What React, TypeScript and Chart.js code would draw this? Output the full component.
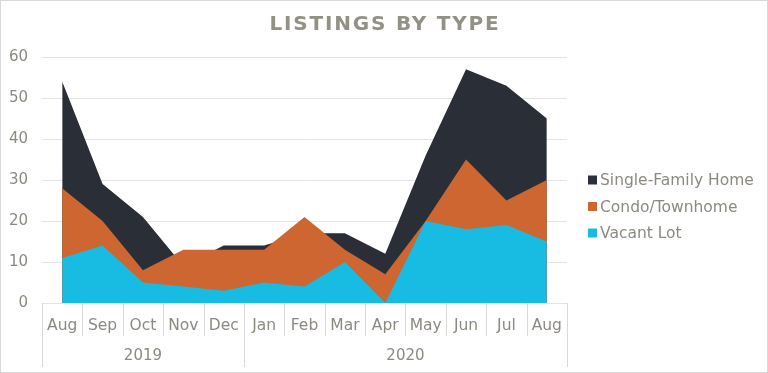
import React, { useEffect, useRef } from "react";
import { Chart, registerables } from "chart.js";

Chart.register(...registerables);

const months = ["Aug", "Sep", "Oct", "Nov", "Dec", "Jan", "Feb", "Mar", "Apr", "May", "Jun", "Jul", "Aug"];
const yearLabels = ["2019", "2020"];
const yearStarts = [0, 5];
const yearEnds = [4, 12];

const vacantLot = [11, 14, 5, 4, 3, 5, 4, 10, 0, 20, 18, 19, 15];
const condoTownhome = [28, 20, 8, 13, 13, 13, 21, 13, 7, 20, 35, 25, 30];
const singleFamilyHome = [54, 29, 21, 9, 14, 14, 17, 17, 12, 36, 57, 53, 45];

const yTicks = [0, 10, 20, 30, 40, 50, 60];

const TEXT = "#8c8a80";
const LINE = "#d9d9d9";
const FONT = "'DejaVu Sans', sans-serif";

const decorations = {
  id: "decorations",
  afterDraw(chart: any) {
    const ctx = chart.ctx;
    const xs = chart.scales.x;
    const area = chart.chartArea;
    const step = xs.getPixelForValue(1) - xs.getPixelForValue(0);
    const edge = (i: number) => xs.getPixelForValue(0) - step / 2 + i * step;
    ctx.save();
    ctx.strokeStyle = LINE;
    ctx.lineWidth = 1;
    // month separators
    for (let i = 0; i <= months.length; i++) {
      const x = Math.round(edge(i)) + 0.5;
      ctx.beginPath();
      ctx.moveTo(x, area.bottom);
      ctx.lineTo(x, area.bottom + 33);
      ctx.stroke();
    }
    // year separators + labels
    ctx.fillStyle = TEXT;
    ctx.font = `15px ${FONT}`;
    ctx.textAlign = "center";
    ctx.textBaseline = "middle";
    for (let g = 0; g < yearLabels.length; g++) {
      const x0 = edge(yearStarts[g]);
      const x1 = edge(yearEnds[g] + 1);
      for (const x of [x0, x1]) {
        const xx = Math.round(x) + 0.5;
        ctx.beginPath();
        ctx.moveTo(xx, area.bottom);
        ctx.lineTo(xx, area.bottom + 64);
        ctx.stroke();
      }
      ctx.fillText(yearLabels[g], (x0 + x1) / 2, area.bottom + 53);
    }
    // legend (reverse dataset order)
    const ds = chart.data.datasets;
    ctx.textAlign = "left";
    ctx.font = `15.5px ${FONT}`;
    let y = area.top + 123;
    for (let i = ds.length - 1; i >= 0; i--) {
      ctx.fillStyle = ds[i].backgroundColor;
      ctx.fillRect(area.right + 21, y - 4.5, 9, 9);
      ctx.fillStyle = TEXT;
      ctx.fillText(ds[i].label, area.right + 33, y + 1);
      y += 26.5;
    }
    // title
    ctx.textAlign = "center";
    ctx.font = `bold 20px ${FONT}`;
    (ctx as any).letterSpacing = "1.8px";
    ctx.fillStyle = "#939186";
    ctx.fillText("LISTINGS BY TYPE", chart.width / 2 + 1, 25);
    (ctx as any).letterSpacing = "0px";
    // outer border
    ctx.strokeStyle = LINE;
    ctx.strokeRect(0.5, 0.5, chart.width - 1, chart.height - 1);
    ctx.restore();
  },
};

export default function App() {
  const ref = useRef<HTMLCanvasElement | null>(null);
  useEffect(() => {
    document.body.style.margin = "0";
    const chart = new Chart(ref.current as HTMLCanvasElement, {
      type: "line",
      data: {
        labels: months,
        datasets: [
          {
            label: "Vacant Lot",
            data: vacantLot,
            backgroundColor: "#18bbe1",
            borderWidth: 0,
            pointRadius: 0,
            fill: "origin",
            tension: 0,
          },
          {
            label: "Condo/Townhome",
            data: condoTownhome,
            backgroundColor: "#cd6630",
            borderWidth: 0,
            pointRadius: 0,
            fill: "origin",
            tension: 0,
          },
          {
            label: "Single-Family Home",
            data: singleFamilyHome,
            backgroundColor: "#2a2f37",
            borderWidth: 0,
            pointRadius: 0,
            fill: "origin",
            tension: 0,
          },
        ],
      },
      options: {
        animation: false,
        responsive: false,
        layout: { padding: { top: 57, left: 8, right: 201, bottom: 0 } },
        plugins: {
          title: { display: false },
          tooltip: { enabled: false },
          legend: { display: false },
        },
        scales: {
          x: {
            offset: true,
            grid: { display: false, drawTicks: false },
            border: { display: false },
            ticks: {
              color: TEXT,
              font: { family: FONT, size: 15.5 },
              padding: 14,
              maxRotation: 0,
              autoSkip: false,
            },
            afterFit: (s: any) => {
              s.height = 70;
            },
          },
          y: {
            min: 0,
            max: 60,
            afterBuildTicks: (s: any) => {
              s.ticks = yTicks.map((v) => ({ value: v }));
            },
            grid: { color: "#e4e4e4", drawTicks: false },
            border: { display: false },
            ticks: {
              color: TEXT,
              font: { family: FONT, size: 15 },
              padding: 14,
            },
            afterFit: (s: any) => {
              s.width = 34;
            },
          },
        },
      },
      plugins: [decorations],
    });
    return () => chart.destroy();
  }, []);
  return <canvas ref={ref} width={768} height={373} style={{ display: "block" }} />;
}
